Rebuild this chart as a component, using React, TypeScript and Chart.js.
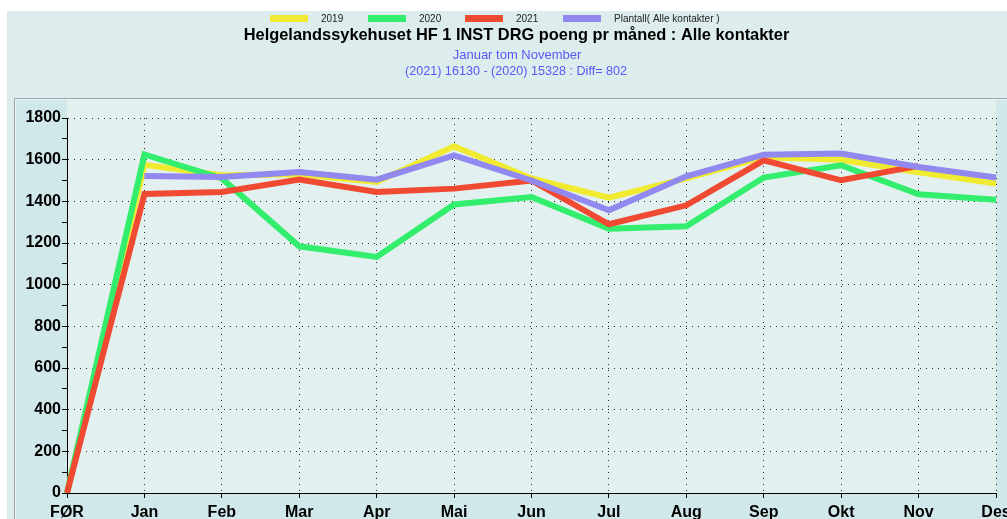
import React, { useEffect, useRef } from "react";
import { Chart, registerables } from "chart.js";

Chart.register(...registerables);

const months = ["FØR", "Jan", "Feb", "Mar", "Apr", "Mai", "Jun", "Jul", "Aug", "Sep", "Okt", "Nov", "Des"];
const values2019 = [0, 1575, 1525, 1530, 1493, 1664, 1510, 1418, 1510, 1612, 1600, 1540, 1485];
const values2020 = [0, 1625, 1510, 1184, 1133, 1385, 1421, 1269, 1280, 1514, 1573, 1434, 1408];
const values2021 = [0, 1435, 1445, 1505, 1445, 1461, 1500, 1290, 1381, 1597, 1501, 1570, null];
const valuesPlantall = [null, 1522, 1517, 1541, 1504, 1621, 1500, 1357, 1520, 1624, 1629, 1565, 1514];

const seriesLabels = ["2019", "2020", "2021", "Plantall( Alle kontakter )"];
const seriesColors = ["rgb(240,234,48)", "rgb(50,238,108)", "rgb(240,74,50)", "rgb(145,136,240)"];

const titleText = "Helgelandssykehuset HF 1 INST DRG poeng pr måned : Alle kontakter";
const subtitleLines = ["Januar tom November", "(2021) 16130 - (2020) 15328 : Diff= 802"];

const yMin = 0;
const yMax = 1800;
const yMajorStep = 200;
const yMinorStep = 100;

const FONT = "'Liberation Sans', Arial, Helvetica, sans-serif";

const W = 1007;
const H = 519;

const backgroundPlugin = {
  id: "bgHeader",
  beforeDraw(chart: any) {
    const { ctx, chartArea } = chart;
    ctx.save();
    ctx.fillStyle = "#ffffff";
    ctx.fillRect(0, 0, W, H);
    ctx.fillStyle = "rgb(221,237,237)";
    ctx.fillRect(7, 11, W - 7, H - 11);
    // panel
    ctx.fillStyle = "rgb(209,232,234)";
    ctx.fillRect(14, 98, W - 14, H - 98);
    ctx.strokeStyle = "rgb(160,168,170)";
    ctx.lineWidth = 1;
    ctx.strokeRect(14.5, 98.5, W, H);
    ctx.strokeStyle = "rgb(235,242,242)";
    ctx.strokeRect(15.5, 99.5, W, H);
    // plot background
    ctx.fillStyle = "rgb(226,240,240)";
    ctx.fillRect(chartArea.left, 100, chartArea.right - chartArea.left, chartArea.bottom - 100);

    // legend
    ctx.font = `10px ${FONT}`;
    ctx.textBaseline = "middle";
    ctx.textAlign = "left";
    const starts = [270, 368, 465, 563];
    const ly = 18.5;
    chart.data.datasets.forEach((ds: any, i: number) => {
      const x = starts[i];
      ctx.fillStyle = ds.borderColor;
      ctx.fillRect(x, ly - 3.5, 38, 7);
      ctx.fillStyle = "#222";
      ctx.fillText(ds.label, x + 51, ly + 0.5);
    });

    // title
    ctx.textAlign = "center";
    ctx.fillStyle = "#000";
    ctx.font = `bold 16.4px ${FONT}`;
    ctx.fillText(titleText, 516.5, 35.5);
    ctx.font = `13px ${FONT}`;
    ctx.fillStyle = "rgb(88,88,245)";
    ctx.fillText(subtitleLines[0], 517, 55);
    ctx.font = `12.6px ${FONT}`;
    ctx.fillText(subtitleLines[1], 516, 72);
    ctx.restore();
  },
};

export default function App() {
  const canvasRef = useRef<HTMLCanvasElement | null>(null);

  useEffect(() => {
    const canvas = canvasRef.current;
    if (!canvas) return;
    const datasets = [values2019, values2020, values2021, valuesPlantall].map((vals, i) => ({
      label: seriesLabels[i],
      data: vals,
      borderColor: seriesColors[i],
      backgroundColor: seriesColors[i],
      borderWidth: 6,
      pointRadius: 0,
      pointHoverRadius: 0,
      tension: 0,
      fill: false,
      borderJoinStyle: "miter" as const,
      borderCapStyle: "butt" as const,
      spanGaps: false,
      order: 4 - i,
    }));
    const chart = new Chart(canvas, {
      type: "line",
      data: { labels: months, datasets },
      plugins: [backgroundPlugin],
      options: {
        animation: false,
        responsive: false,
        maintainAspectRatio: false,
        devicePixelRatio: 1,
        events: [],
        layout: { padding: { top: 118, right: 11, bottom: 0, left: 0 } },
        plugins: {
          legend: { display: false },
          title: { display: false },
          tooltip: { enabled: false },
        },
        scales: {
          x: {
            type: "category",
            offset: false,
            ticks: {
              autoSkip: false,
              maxRotation: 0,
              minRotation: 0,
              padding: 5,
              color: "#000",
              font: { family: FONT, size: 16, weight: "bold" },
            },
            grid: {
              offset: false,
              color: "rgba(20,20,20,0.9)",
              tickColor: "#000",
              tickLength: 5,
              lineWidth: 1,
            },
            border: { display: true, color: "#000", width: 1, dash: [1, 5] },
            afterFit: (s: any) => {
              s.height = 26;
              s.paddingLeft = 0;
              s.paddingRight = 0;
            },
          },
          y: {
            min: yMin,
            max: yMax,
            ticks: {
              stepSize: yMinorStep,
              autoSkip: false,
              padding: 1,
              color: "#000",
              font: { family: FONT, size: 16, weight: "bold" },
              callback: (v: any) => (Number(v) % yMajorStep === 0 ? String(v) : ""),
            },
            grid: {
              color: (c: any) =>
                c.tick && c.tick.value % yMajorStep === 0 && c.tick.value > 0 ? "rgba(20,20,20,0.9)" : "rgba(0,0,0,0)",
              tickColor: "#000",
              tickLength: 5,
              lineWidth: 1,
            },
            border: { display: true, color: "#000", width: 1, dash: [1, 5] },
            afterFit: (s: any) => {
              s.width = 67;
              s.paddingTop = 0;
              s.paddingBottom = 0;
            },
          },
        },
      } as any,
    });
    return () => chart.destroy();
  }, []);

  return (
    <div style={{ position: "absolute", left: 0, top: 0, width: W, height: H }}>
      <canvas ref={canvasRef} width={W} height={H} style={{ display: "block", width: W, height: H }} />
    </div>
  );
}
